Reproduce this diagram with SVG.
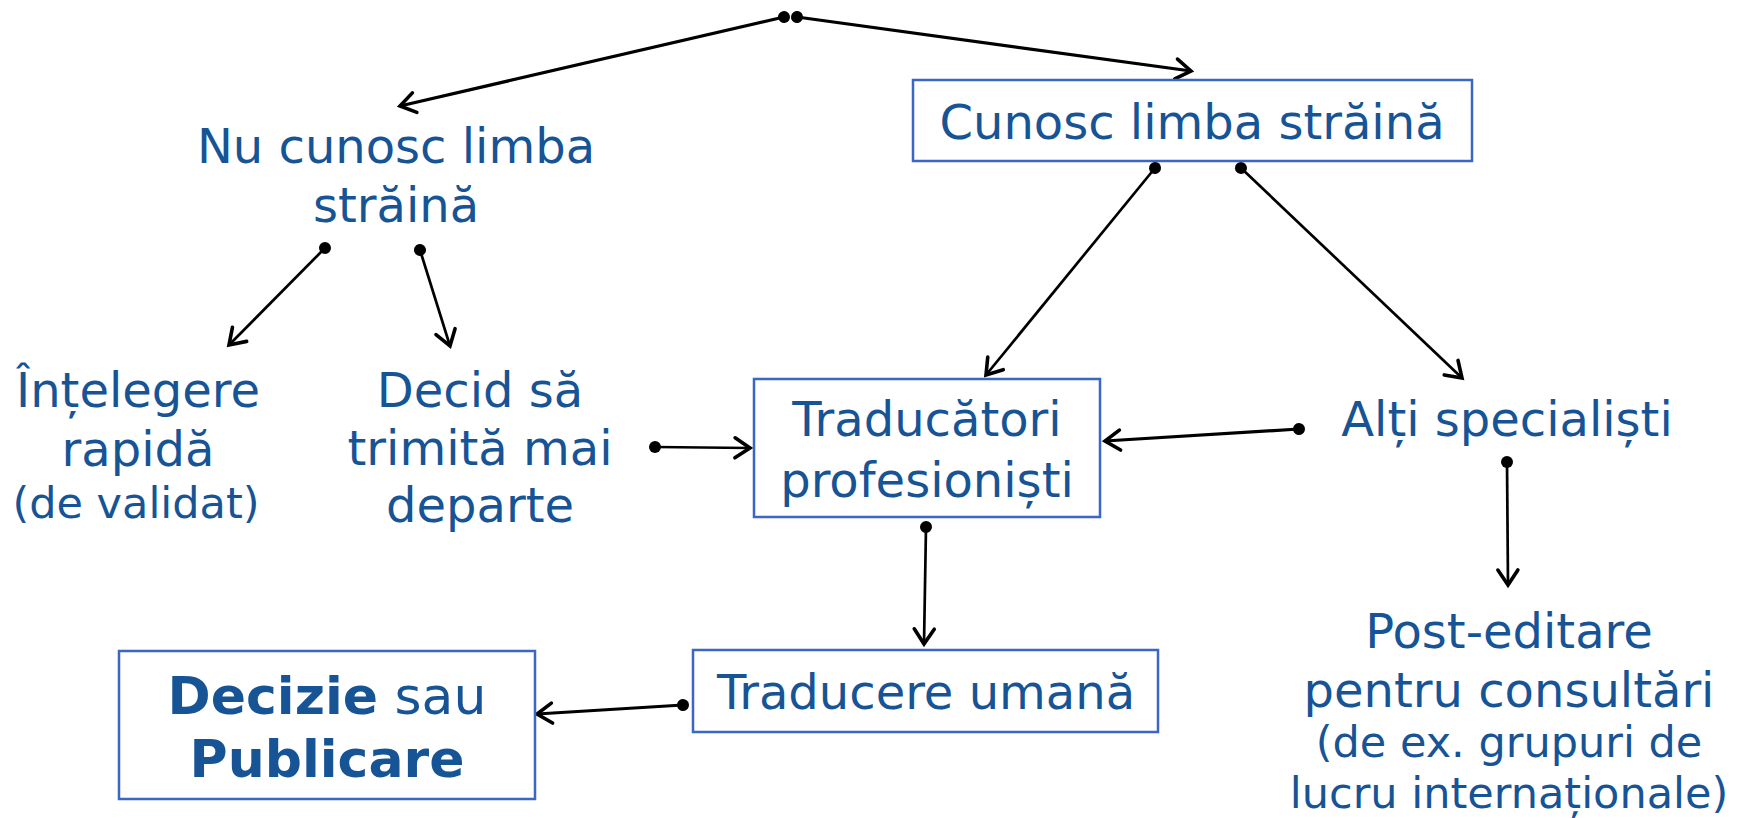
<svg xmlns="http://www.w3.org/2000/svg" width="1741" height="818" viewBox="0 0 1741 818">
<defs>
<style>
.t{font-family:"DejaVu Sans","Liberation Sans",sans-serif;font-size:48px;fill:#175496;text-anchor:middle}
.s{font-size:43px}
.b{font-weight:bold}
.box{fill:#fff;stroke:#3A66C4;stroke-width:2.5}
.c{stroke:#000;stroke-width:3.2;fill:none;marker-start:url(#dot);marker-end:url(#arr)}
.m{stroke-width:2.7}
</style>
<marker id="dot" markerUnits="userSpaceOnUse" viewBox="-7 -7 14 14" refX="0" refY="0" markerWidth="14" markerHeight="14" orient="auto">
<circle r="6" fill="#000"/>
</marker>
<marker id="arr" markerUnits="userSpaceOnUse" viewBox="-20 -13 24 26" refX="0" refY="0" markerWidth="24" markerHeight="26" orient="auto">
<path d="M-15,-10 L0,0 L-15,10" fill="none" stroke="#000" stroke-width="3.6" stroke-linecap="round" stroke-linejoin="miter"/>
</marker>
</defs>
<rect width="1741" height="818" fill="#fff"/>
<g id="connectors">
<line class="c" x1="784" y1="17" x2="400" y2="106"/>
<line class="c" x1="797" y1="17" x2="1191" y2="71"/>
<line class="c m" x1="325" y1="248" x2="229" y2="345"/>
<line class="c m" x1="420" y1="250" x2="450" y2="346"/>
<line class="c m" x1="1155" y1="168" x2="986" y2="375"/>
<line class="c m" x1="1241" y1="168" x2="1462" y2="378"/>
<line class="c m" x1="655" y1="447" x2="750" y2="448"/>
<line class="c" x1="1299" y1="429" x2="1105" y2="441"/>
<line class="c m" x1="1507" y1="462" x2="1508" y2="585"/>
<line class="c m" x1="926" y1="527" x2="924" y2="644"/>
<line class="c" x1="683" y1="705" x2="537" y2="714"/>
</g>
<g id="n-nu">
<text class="t" x="396" y="163">Nu cunosc limba</text>
<text class="t" x="396" y="222">străină</text>
</g>
<g id="n-cunosc">
<rect class="box" x="913" y="80" width="559" height="81"/>
<text class="t" x="1192" y="139">Cunosc limba străină</text>
</g>
<g id="n-intelegere">
<text class="t" x="138" y="407">Înțelegere</text>
<text class="t" x="138" y="466">rapidă</text>
<text class="t s" x="136" y="518">(de validat)</text>
</g>
<g id="n-decid">
<text class="t" x="480" y="407">Decid să</text>
<text class="t" x="480" y="465">trimită mai</text>
<text class="t" x="480" y="522">departe</text>
</g>
<g id="n-traducatori">
<rect class="box" x="754" y="379" width="346" height="138"/>
<text class="t" x="927" y="436">Traducători</text>
<text class="t" x="927" y="497">profesioniști</text>
</g>
<g id="n-alti">
<text class="t" x="1507" y="436">Alți specialiști</text>
</g>
<g id="n-traducere">
<rect class="box" x="693" y="650" width="465" height="82"/>
<text class="t" x="926" y="709">Traducere umană</text>
</g>
<g id="n-decizie">
<rect class="box" x="119" y="651" width="416" height="148"/>
<text class="t" x="327" y="714" style="font-size:52px"><tspan class="b">Decizie</tspan> sau</text>
<text class="t b" x="327" y="777" style="font-size:52px">Publicare</text>
</g>
<g id="n-post">
<text class="t" x="1509" y="648">Post-editare</text>
<text class="t" x="1509" y="707">pentru consultări</text>
<text class="t s" x="1509" y="757">(de ex. grupuri de</text>
<text class="t s" x="1509" y="808">lucru internaționale)</text>
</g>
</svg>
